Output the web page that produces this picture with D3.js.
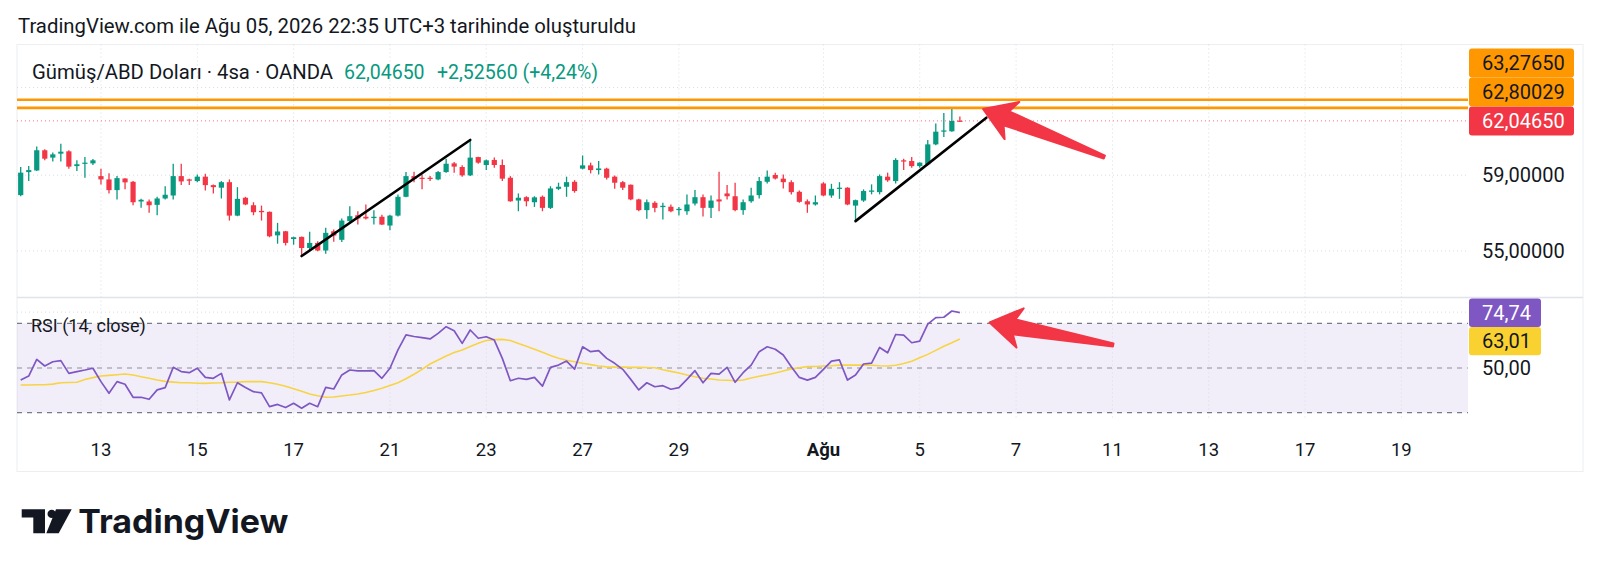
<!DOCTYPE html>
<html>
<head>
<meta charset="utf-8">
<script src="https://cdn.jsdelivr.net/npm/d3@7"></script>
<style>
  html, body { margin: 0; padding: 0; background: #fff; }
  svg { display: block; font-family: Roboto, 'Noto Sans', sans-serif; }
</style>
</head>
<body>
<script>
// 4h candles, XAG/USD (OANDA), bar index 0 = first visible bar
const opens = [57.92,59.17,59.26,60.38,59.97,60.19,60.32,59.50,59.63,59.65,58.95,58.77,58.19,58.82,58.64,57.58,57.58,57.40,57.74,57.90,
  58.95,58.77,58.68,58.92,58.46,58.32,58.62,56.83,57.78,57.38,57.08,57.03,55.80,56.01,55.61,55.72,55.15,55.41,55.02,56.01,
  55.57,56.54,56.85,56.77,56.70,56.77,56.31,56.83,57.83,58.95,58.86,58.86,58.77,59.17,59.65,59.45,58.99,60.00,59.56,59.84,
  59.56,58.86,57.63,57.81,57.54,57.83,57.24,58.26,58.37,58.64,59.36,59.54,59.28,59.36,58.92,58.62,58.48,57.69,57.12,57.51,
  57.28,57.30,57.12,57.06,57.47,57.81,57.24,57.69,58.01,57.86,57.12,57.59,57.92,58.64,59.01,58.81,58.62,58.10,57.59,57.42,
  58.55,57.90,58.26,58.32,57.36,57.63,58.10,58.08,58.92,58.68,59.82,59.78,59.50,59.60,60.71,61.43,61.45,62.06];
const highs = [59.45,59.50,60.59,60.43,60.25,60.75,60.38,59.82,60.00,59.89,59.36,59.10,58.95,58.84,58.68,57.72,57.69,57.83,58.40,59.63,
  59.63,58.80,59.04,59.08,58.50,58.68,58.77,58.35,57.83,57.54,57.36,57.05,56.45,56.03,55.73,55.74,55.98,55.50,56.19,56.10,
  56.68,57.33,57.06,57.42,57.12,56.88,56.88,57.96,59.17,59.19,59.04,58.95,59.23,59.91,59.72,59.54,60.96,60.02,59.87,59.97,
  59.87,58.95,58.01,57.86,57.86,57.90,58.40,58.59,58.92,58.73,60.09,59.69,59.78,59.41,58.99,58.68,58.50,57.72,57.69,57.59,
  57.51,57.42,57.29,57.96,58.19,57.96,57.90,59.19,58.46,58.59,57.69,58.32,58.90,59.26,59.14,59.04,58.73,58.17,57.69,57.90,
  58.62,58.53,58.62,58.35,57.68,58.23,58.50,59.04,59.14,59.93,59.91,60.00,59.71,60.96,61.89,62.50,62.73,62.30];
const lows = [57.86,58.68,59.23,59.83,59.75,59.75,59.36,59.23,58.86,59.56,58.50,58.01,57.69,58.23,57.38,57.24,56.98,56.85,57.69,57.69,
  58.46,58.46,58.62,58.17,58.01,57.74,56.57,56.80,57.38,56.85,56.57,55.70,55.37,55.28,55.32,54.76,55.03,54.98,54.85,55.47,
  55.46,56.45,56.36,56.62,56.36,56.34,56.07,56.79,57.80,58.62,58.23,58.68,58.73,59.14,59.14,58.92,58.96,59.63,59.28,59.41,
  58.68,57.57,57.06,57.32,57.29,57.06,57.18,58.19,57.83,58.05,59.32,59.10,59.04,58.77,58.26,58.19,57.65,57.06,56.66,57.01,
  56.62,57.01,56.83,56.88,57.36,56.79,56.70,57.06,57.69,57.06,56.88,57.51,57.74,58.55,58.77,58.28,57.96,57.51,56.98,57.36,
  57.86,57.78,57.72,57.38,56.54,57.56,57.96,57.96,58.64,58.55,59.28,59.41,59.41,59.54,60.66,61.12,61.42,61.99];
const closes = [59.14,59.28,60.38,59.91,60.15,60.30,59.47,59.60,59.69,59.82,58.77,58.19,58.84,58.61,57.54,57.67,57.38,57.74,57.94,58.95,
  58.66,58.70,58.92,58.46,58.35,58.62,56.83,57.72,57.42,57.01,57.01,55.75,56.00,55.41,55.70,55.15,55.41,55.02,55.93,55.79,
  56.57,56.80,56.68,56.68,56.77,56.36,56.83,57.83,58.95,58.81,58.81,58.80,59.17,59.63,59.47,58.99,59.97,59.69,59.82,59.56,
  58.81,57.59,57.78,57.59,57.80,57.24,58.28,58.37,58.62,58.14,59.54,59.28,59.37,58.86,58.59,58.32,57.69,57.12,57.54,57.24,
  57.35,57.06,57.19,57.42,57.81,57.24,57.63,57.58,57.86,57.12,57.54,57.90,58.68,58.92,58.82,58.62,58.08,57.56,57.42,57.54,
  57.90,58.26,58.32,57.42,57.65,58.14,58.17,58.95,58.72,59.84,59.75,59.50,59.69,60.71,61.43,61.50,62.04,62.0465];

// RSI(14, close) and its moving average, same bars
const rsiValues = [44.6,46.4,53.9,50.9,52.8,53.3,47.6,48.4,49.1,49.9,43.9,38.7,43.9,42.7,36.9,36.9,36.0,40.2,41.2,50.3,
  48.4,47.9,49.9,45.8,45.4,47.6,35.7,43.4,41.3,39.4,38.9,32.7,33.7,32.3,34.2,32.0,34.2,32.7,41.3,40.6,
  46.9,49.1,48.7,48.7,48.8,45.4,49.9,58.1,64.8,64.1,63.6,63.0,65.5,68.5,66.7,61.0,67.0,63.3,64.0,62.5,
  54.3,44.3,45.4,44.9,45.8,41.9,50.3,51.3,53.1,49.5,59.5,57.3,57.8,54.3,52.1,49.4,44.9,40.2,43.4,41.6,
  42.1,40.5,41.2,44.9,48.8,43.4,47.6,47.3,50.3,43.6,47.9,51.3,57.3,59.5,58.4,55.8,50.6,45.8,44.6,45.8,
  49.4,53.1,53.6,44.6,46.9,51.8,52.2,59.2,56.8,65.0,64.7,61.3,62.0,69.6,72.5,72.7,75.5,74.74];
const rsiMaValues = [42.4,42.4,42.5,42.5,42.8,43.4,43.5,43.6,44.9,45.7,46.4,46.7,47.0,47.3,46.9,46.1,45.4,44.6,44.0,43.7,
  43.4,43.4,43.2,43.1,43.3,43.4,43.6,43.7,43.9,43.9,43.9,43.4,42.7,41.8,40.7,39.6,38.4,37.6,36.9,37.0,
  37.5,37.9,38.4,39.0,39.9,40.9,42.2,43.4,45.2,47.2,49.4,51.8,53.6,55.4,56.9,58.1,59.6,61.1,62.3,62.7,
  62.8,62.3,61.0,59.7,58.4,57.0,55.6,54.4,53.5,52.8,52.1,51.5,50.9,50.5,50.4,50.4,50.3,50.3,50.2,50.1,
  49.2,48.5,47.8,46.9,46.1,45.4,45.1,44.6,44.5,44.3,44.6,45.5,46.3,47.0,47.8,48.7,49.6,50.1,50.6,50.7,
  50.9,51.0,51.3,51.3,51.3,51.3,51.2,51.0,50.9,51.2,52.0,53.0,54.6,56.1,57.9,59.7,61.3,63.01];

// time axis: label text and the bar index it sits on
const timeLabels = ['13','15','17','21','23','27','29','Ağu','5','7','11','13','17','19'];
const timeBars = [10,22,34,46,58,70,82,100,112,124,136,148,160,172];

// price axis
const priceTicks = [59, 55];
const priceGrid = [64, 59, 55];
const levelPrices = [63.2765, 62.80029];   // horizontal drawings

// drawings: [barStart, priceStart, barEnd, priceEnd]
const trendLines = [[35, 54.74, 56, 60.96], [104, 56.54, 120.3, 62.23]];
const priceArrow = [135.0, 60.00, 119.9, 62.73];   // tail -> tip
const rsiArrow = [136.1, 60.3, 120.7, 70.4];

const rsiLevels = [70, 50, 30];

const W = 1600, H = 573;
const plotLeft = 17, plotRight = 1468, frameRight = 1583;
const priceTop = 44.5, paneSplit = 297.5, rsiBottom = 420, frameBottom = 471.5;
const upColor = '#089981', downColor = '#F23645';

const svg = d3.select('body').append('svg')
  .attr('width', W).attr('height', H)
  .attr('viewBox', [0, 0, W, H]);

svg.append('rect').attr('width', W).attr('height', H).attr('fill', '#fff');

var xScale = d3.scaleLinear().domain([-0.46, 180.3]).range([plotLeft, plotRight]);
var yScale = d3.scaleLog().domain([52.7, 66.6]).range([paneSplit - 0.5, priceTop]);
var rsiScale = d3.scaleLinear().domain([30, 70]).range([412.7, 323.3]);

var fmt = function (v, digits) { return v.toFixed(digits).replace('.', ','); };

// header
svg.append('text')
  .attr('x', 18).attr('y', 33)
  .attr('font-size', 20).attr('fill', '#131722')
  .attr('textLength', 618).attr('lengthAdjust', 'spacingAndGlyphs')
  .text('TradingView.com ile Ağu 05, 2026 22:35 UTC+3 tarihinde oluşturuldu');

// frame + pane separator
svg.append('rect')
  .attr('x', plotLeft).attr('y', priceTop)
  .attr('width', frameRight - plotLeft).attr('height', frameBottom - priceTop)
  .attr('fill', 'none').attr('stroke', '#eceef2');
svg.append('line')
  .attr('x1', plotLeft).attr('x2', frameRight)
  .attr('y1', paneSplit).attr('y2', paneSplit)
  .attr('stroke', '#e0e3eb').attr('stroke-width', 1.5);

// rsi background band
svg.append('rect')
  .attr('x', plotLeft).attr('width', plotRight - plotLeft)
  .attr('y', rsiScale(70)).attr('height', rsiScale(30) - rsiScale(70))
  .attr('fill', 'rgba(126,87,194,0.1)');

// grid
var grid = svg.append('g').attr('stroke', '#d9dce4').attr('stroke-dasharray', '1,3');
grid.selectAll('.vgrid').data(timeBars).enter().append('line')
  .attr('x1', d => xScale(d)).attr('x2', d => xScale(d))
  .attr('y1', priceTop).attr('y2', rsiBottom);
grid.selectAll('.hgrid').data(priceGrid).enter().append('line')
  .attr('x1', plotLeft).attr('x2', plotRight)
  .attr('y1', d => yScale(d)).attr('y2', d => yScale(d));
grid.append('line')
  .attr('x1', plotLeft).attr('x2', plotRight)
  .attr('y1', rsiScale(75)).attr('y2', rsiScale(75));

// rsi level lines
svg.selectAll('.rsilevel').data(rsiLevels).enter().append('line')
  .attr('x1', plotLeft).attr('x2', plotRight)
  .attr('y1', d => rsiScale(d)).attr('y2', d => rsiScale(d))
  .attr('stroke', d => d === 50 ? 'rgba(120,123,134,0.55)' : '#787B86')
  .attr('stroke-width', 1.3)
  .attr('stroke-dasharray', '5,5');

// horizontal price levels
svg.selectAll('.level').data(levelPrices).enter().append('line')
  .attr('x1', plotLeft).attr('x2', plotRight)
  .attr('y1', d => yScale(d)).attr('y2', d => yScale(d))
  .attr('stroke', '#FF9800').attr('stroke-width', 2.6);

var lastClose = closes[closes.length - 1];
svg.append('line')
  .attr('x1', plotLeft).attr('x2', plotRight)
  .attr('y1', yScale(lastClose)).attr('y2', yScale(lastClose))
  .attr('stroke', downColor).attr('stroke-opacity', 0.7)
  .attr('stroke-dasharray', '1,3');

// candles
var candleData = opens.map(function (o, i) {
  return { i: i, o: o, h: highs[i], l: lows[i], c: closes[i] };
});
var candles = svg.append('g').attr('class', 'candles')
  .selectAll('g').data(candleData).enter().append('g')
  .attr('fill', d => d.c >= d.o ? upColor : downColor)
  .attr('stroke', d => d.c >= d.o ? upColor : downColor);
candles.append('line')
  .attr('x1', d => xScale(d.i)).attr('x2', d => xScale(d.i))
  .attr('y1', d => yScale(d.h)).attr('y2', d => yScale(d.l))
  .attr('stroke-width', 1.3);
candles.append('rect')
  .attr('x', d => xScale(d.i) - 2.6).attr('width', 5.2)
  .attr('y', d => yScale(Math.max(d.o, d.c)))
  .attr('height', d => Math.max(1.2, Math.abs(yScale(d.o) - yScale(d.c))))
  .attr('stroke', 'none');

// trend lines
svg.selectAll('.trend').data(trendLines).enter().append('line')
  .attr('x1', d => xScale(d[0])).attr('y1', d => yScale(d[1]))
  .attr('x2', d => xScale(d[2])).attr('y2', d => yScale(d[3]))
  .attr('stroke', '#000').attr('stroke-width', 2.6).attr('stroke-linecap', 'round');

// rsi + ma
var rsiLine = d3.line().x((d, i) => xScale(i)).y(d => rsiScale(d));
svg.append('path').datum(rsiMaValues).attr('d', rsiLine)
  .attr('fill', 'none').attr('stroke', '#F7D443').attr('stroke-width', 1.6);
svg.append('path').datum(rsiValues).attr('d', rsiLine)
  .attr('fill', 'none').attr('stroke', '#7E57C2').attr('stroke-width', 1.7)
  .attr('stroke-linejoin', 'round');

// arrows (tail -> tip)
function arrowPath(x1, y1, x2, y2) {
  var dx = x2 - x1, dy = y2 - y1, len = Math.hypot(dx, dy);
  var ux = dx / len, uy = dy / len, nx = -uy, ny = ux;
  var headLen = 31, headHalf = 20, neckHalf = 7.5, tailHalf = 1.5;
  var bx = x2 - ux * headLen, by = y2 - uy * headLen;
  var kx = x2 - ux * (headLen - 6), ky = y2 - uy * (headLen - 6);
  var pts = [
    [x2, y2],
    [bx + nx * headHalf, by + ny * headHalf],
    [kx + nx * neckHalf, ky + ny * neckHalf],
    [x1 + nx * tailHalf, y1 + ny * tailHalf],
    [x1 - nx * tailHalf, y1 - ny * tailHalf],
    [kx - nx * neckHalf, ky - ny * neckHalf],
    [bx - nx * headHalf, by - ny * headHalf]
  ];
  return 'M' + pts.map(p => p[0].toFixed(1) + ',' + p[1].toFixed(1)).join('L') + 'Z';
}
svg.append('path')
  .attr('d', arrowPath(xScale(priceArrow[0]), yScale(priceArrow[1]), xScale(priceArrow[2]), yScale(priceArrow[3])))
  .attr('fill', '#F23645').attr('stroke', '#F23645').attr('stroke-width', 2).attr('stroke-linejoin', 'round');
svg.append('path')
  .attr('d', arrowPath(xScale(rsiArrow[0]), rsiScale(rsiArrow[1]), xScale(rsiArrow[2]), rsiScale(rsiArrow[3])))
  .attr('fill', '#F23645').attr('stroke', '#F23645').attr('stroke-width', 2).attr('stroke-linejoin', 'round');

// symbol legend
var legend = svg.append('g').attr('font-size', 19.5);
legend.append('text').attr('x', 32).attr('y', 79).attr('fill', '#131722')
  .attr('textLength', 301).attr('lengthAdjust', 'spacingAndGlyphs')
  .text('Gümüş/ABD Doları · 4sa · OANDA');
legend.append('text').attr('x', 344).attr('y', 79).attr('fill', upColor)
  .text(fmt(lastClose, 5));
legend.append('text').attr('x', 437).attr('y', 79).attr('fill', upColor)
  .text('+2,52560 (+4,24%)');

svg.append('text')
  .attr('x', 31).attr('y', 332)
  .attr('font-size', 18).attr('fill', '#131722')
  .text('RSI (14, close)');

// price axis
var axisX = 1482, boxX = 1469;
svg.selectAll('.ptick').data(priceTicks).enter().append('text')
  .attr('x', axisX).attr('y', d => yScale(d))
  .attr('dy', '0.35em').attr('font-size', 20).attr('fill', '#131722')
  .text(d => fmt(d, 5));
svg.append('text')
  .attr('x', axisX).attr('y', rsiScale(50))
  .attr('dy', '0.35em').attr('font-size', 20).attr('fill', '#131722')
  .text(fmt(50, 2));

// stacked value labels on the scale
function stackUp(items, h) {
  // bottom-most keeps its place, others pushed upward
  items.sort((a, b) => b.y - a.y);
  for (var k = 1; k < items.length; k++) {
    items[k].y = Math.min(items[k].y, items[k - 1].y - h);
  }
  return items;
}
function stackDown(items, h) {
  items.sort((a, b) => a.y - b.y);
  for (var k = 1; k < items.length; k++) {
    items[k].y = Math.max(items[k].y, items[k - 1].y + h);
  }
  return items;
}
var boxH = 29;
var priceLabels = stackUp([
  { y: yScale(levelPrices[0]), text: fmt(levelPrices[0], 5), bg: '#FF9800', fg: '#131722' },
  { y: yScale(levelPrices[1]), text: fmt(levelPrices[1], 5), bg: '#FF9800', fg: '#131722' },
  { y: yScale(lastClose), text: fmt(lastClose, 5), bg: '#F23645', fg: '#ffffff' }
], boxH);
var rsiLabels = stackDown([
  { y: rsiScale(rsiValues[rsiValues.length - 1]), text: fmt(rsiValues[rsiValues.length - 1], 2), bg: '#7E57C2', fg: '#ffffff' },
  { y: rsiScale(rsiMaValues[rsiMaValues.length - 1]), text: fmt(rsiMaValues[rsiMaValues.length - 1], 2), bg: '#F9D232', fg: '#131722' }
], 28.4);

function drawLabels(items, w, h) {
  var g = svg.append('g').selectAll('g').data(items).enter().append('g');
  g.append('rect')
    .attr('x', boxX).attr('y', d => d.y - h / 2)
    .attr('width', w).attr('height', h)
    .attr('rx', 3).attr('fill', d => d.bg);
  g.append('text')
    .attr('x', axisX).attr('y', d => d.y)
    .attr('dy', '0.35em').attr('font-size', 20)
    .attr('fill', d => d.fg)
    .text(d => d.text);
}
drawLabels(priceLabels, 105, boxH);
drawLabels(rsiLabels, 72, 28.4);

// time axis
svg.selectAll('.tlabel').data(timeLabels).enter().append('text')
  .attr('x', (d, i) => xScale(timeBars[i]))
  .attr('y', 456)
  .attr('text-anchor', 'middle')
  .attr('font-size', 18.5)
  .attr('font-weight', d => d === 'Ağu' ? 700 : 400)
  .attr('fill', '#131722')
  .text(d => d);

// TradingView logo
var logo = svg.append('g').attr('transform', 'translate(21.7,509.3)').attr('fill', '#131722');
logo.append('path').attr('d', 'M0,0H23.3V24H11.6V8.2H0Z');
logo.append('circle').attr('cx', 30).attr('cy', 4.6).attr('r', 4.2);
logo.append('path').attr('d', 'M34.3,0H50L37,24H24.6Z');
svg.append('text')
  .attr('x', 78.3).attr('y', 533.3)
  .attr('font-family', 'Inter, Roboto, sans-serif')
  .attr('font-weight', 700).attr('font-size', 33)
  .attr('fill', '#131722')
  .attr('textLength', 210).attr('lengthAdjust', 'spacingAndGlyphs')
  .text('TradingView');
</script>
</body>
</html>
